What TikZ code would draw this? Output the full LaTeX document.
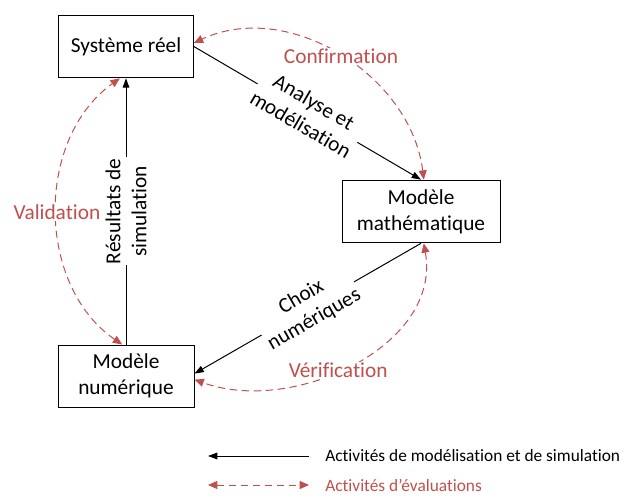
\documentclass[tikz,border=0pt]{standalone}
\usepackage{fontspec}
\setmainfont{Carlito}[Ligatures={NoCommon}]
\usetikzlibrary{arrows.meta}
\definecolor{evalred}{RGB}{192,80,77}
\tikzset{
  box/.style={draw, line width=0.75pt, align=center, inner sep=0pt,
    font=\fontsize{16}{19.5}\selectfont},
  act/.style={line width=0.75pt, -{Triangle[length=7pt,width=5pt]}},
  eval/.style={evalred, line width=0.75pt, dash pattern=on 5.5pt off 3.5pt,
    {Triangle[length=7pt,width=6pt]}-{Triangle[length=7pt,width=6pt]}},
  lbl/.style={fill=white, align=center, inner sep=1pt,
    font=\fontsize{16}{19.5}\selectfont},
  legend/.style={anchor=west, inner sep=0pt, font=\fontsize{13}{15}\selectfont}
}
\begin{document}
\begin{tikzpicture}[x=0.75pt, y=0.75pt]
  \useasboundingbox (0,0) rectangle (624,-502);
  \node[box, minimum width=101pt, minimum height=47pt] (sys) at (126,-46.5) {Système réel};
  \node[box, minimum width=118.5pt, minimum height=47pt] (math) at (421,-211.5) {Modèle\\mathématique};
  \node[box, minimum width=102pt, minimum height=46.5pt] (num) at (126,-376) {Modèle\\numérique};

  \draw[act] (sys.east) -- node[lbl, sloped] {Analyse et\\modélisation} (math.north);
  \draw[act] (math.south) -- node[lbl, sloped] {Choix\\numériques} (num.2);
  \draw[act] (num.north) -- node[lbl, sloped] {Résultats de\\simulation} (sys.south);

  \draw[eval] (math.85) to[out=97, in=25] node[lbl, text=evalred, pos=0.495] {Confirmation} (sys.3);
  \draw[eval] (num.97) to[bend left=55] node[lbl, text=evalred] {Validation} (sys.-101);
  \draw[eval] (math.-85) to[out=-80, in=-20] node[lbl, text=evalred, pos=0.55] {Vérification} (num.-3);

  % legende
  \coordinate (l1a) at (309,-456);
  \coordinate (l1b) at (208,-456);
  \coordinate (l2a) at (208,-485);
  \coordinate (l2b) at (309,-485);
  \draw[act] (l1a) -- (l1b);
  \draw[eval] (l2a) -- (l2b);
  \node[legend] (leg1) at (325,-456) {Activités de modélisation et de simulation};
  \node[legend, text=evalred] (leg2) at (325,-485) {Activités d’évaluations};
\end{tikzpicture}
\end{document}
